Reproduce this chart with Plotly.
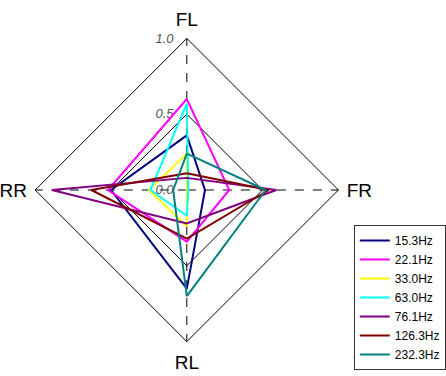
import plotly.graph_objects as go

# Channel positions around the radar, clockwise from the top
channels = ["FL", "FR", "RL", "RR"]

# Frequency bands and their normalised channel responses (FL, FR, RL, RR)
bands = ["15.3Hz", "22.1Hz", "33.0Hz", "63.0Hz", "76.1Hz", "126.3Hz", "232.3Hz"]
resp_15_3 = [0.36, 0.12, 0.65, 0.50]
resp_22_1 = [0.60, 0.28, 0.34, 0.52]
resp_33_0 = [0.24, 0.00, 0.24, 0.25]
resp_63_0 = [0.57, 0.01, 0.17, 0.24]
resp_76_1 = [0.08, 0.59, 0.22, 0.89]
resp_126_3 = [0.11, 0.54, 0.32, 0.63]
resp_232_3 = [0.24, 0.52, 0.70, 0.09]
responses = [resp_15_3, resp_22_1, resp_33_0, resp_63_0, resp_76_1, resp_126_3, resp_232_3]
colors = ["#000080", "#ff00ff", "#ffff00", "#00ffff", "#800080", "#800000", "#008080"]

# Radial ticks
r_ticks = [0.0, 0.5, 1.0]
r_labels = ["0.0", "0.5", "1.0"]

# Keep a small gap between the right-aligned labels and the vertical spoke
pad = "\u00a0" * 3
r_text = [lbl + pad for lbl in r_labels]

fig = go.Figure()
for name, vals, col in zip(bands, responses, colors):
    fig.add_trace(go.Scatterpolar(
        r=vals + vals[:1],
        theta=channels + channels[:1],
        mode="lines",
        name=name,
        line=dict(color=col, width=2),
    ))

W, H = 446, 376
cx, cy, R = 188.5, 190, 153
fig.update_layout(
    width=W, height=H,
    margin=dict(l=0, r=0, t=0, b=0),
    paper_bgcolor="white",
    plot_bgcolor="white",
    font=dict(family="Liberation Sans, Arial, sans-serif", color="black"),
    polar=dict(
        domain=dict(x=[(cx - R) / W, (cx + R) / W],
                    y=[(H - cy - R) / H, (H - cy + R) / H]),
        bgcolor="white",
        gridshape="linear",
        radialaxis=dict(
            range=[0, 1.0],
            tickvals=r_ticks,
            ticktext=r_text,
            angle=90,
            tickangle=90,
            side="counterclockwise",
            showline=False,
            ticks="",
            gridcolor="black",
            gridwidth=1,
            layer="below traces",
            tickfont=dict(family="Liberation Sans, Arial, sans-serif",
                          size=13, color="#555555", style="italic"),
        ),
        angularaxis=dict(
            rotation=90,
            direction="clockwise",
            showline=True,
            linecolor="black",
            linewidth=1,
            gridcolor="black",
            griddash="dash",
            gridwidth=1,
            layer="below traces",
            ticks="outside",
            ticklen=4,
            tickcolor="rgba(0,0,0,0)",
            tickfont=dict(size=19, color="black"),
        ),
    ),
    legend=dict(
        x=357 / W, y=6 / H, xanchor="left", yanchor="bottom",
        bgcolor="white",
        bordercolor="#333333",
        borderwidth=1,
        font=dict(size=12, color="black"),
        itemwidth=30,
        tracegroupgap=0,
    ),
)

fig.write_html("out.html")
